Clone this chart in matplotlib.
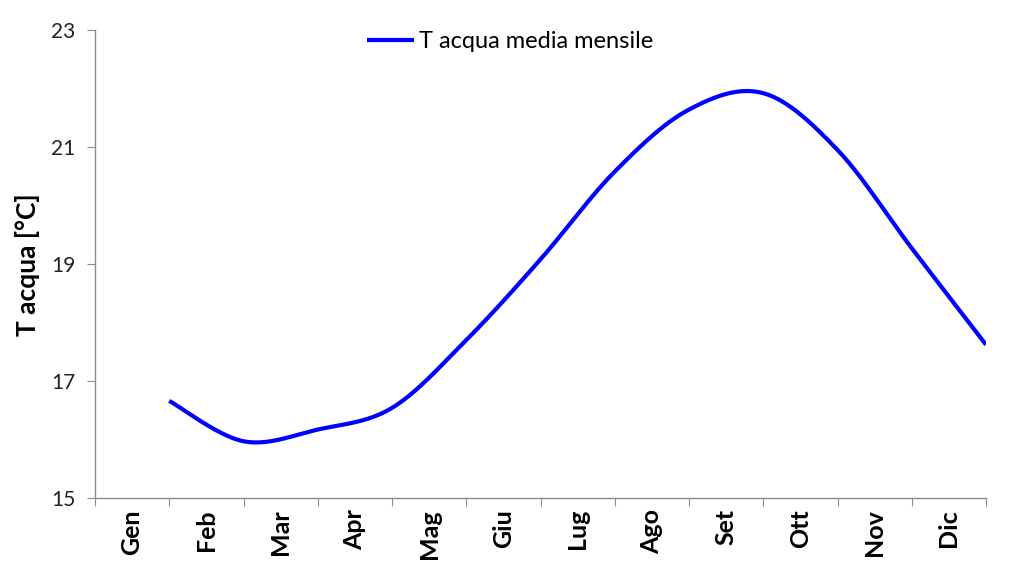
import numpy as np
import matplotlib
matplotlib.use("Agg")
import matplotlib.pyplot as plt

months = ["Gen", "Feb", "Mar", "Apr", "Mag", "Giu", "Lug", "Ago", "Set", "Ott", "Nov", "Dic"]
x_points = [1, 2, 3, 4, 5, 6, 7, 8, 9, 10, 11, 12]
t_acqua = [16.66, 15.97, 16.17, 16.54, 17.70, 19.08, 20.58, 21.64, 21.92, 20.95, 19.27, 17.62]
y_ticks = [15, 17, 19, 21, 23]
series_name = "T acqua media mensile"
y_label = "T acqua [°C]"


def smooth(xs, ys, n=40):
    """Excel-like smoothed line (Catmull-Rom as cubic Bezier)."""
    P = np.column_stack([xs, ys]).astype(float)
    P_ext = np.vstack([P[0], P, P[-1]])
    out = []
    t = np.linspace(0, 1, n)[:, None]
    for i in range(1, len(P_ext) - 2):
        p0, p1, p2, p3 = P_ext[i - 1], P_ext[i], P_ext[i + 1], P_ext[i + 2]
        c1 = p1 + (p2 - p0) / 6.0
        c2 = p2 - (p3 - p1) / 6.0
        seg = ((1 - t) ** 3) * p1 + 3 * ((1 - t) ** 2) * t * c1 + 3 * (1 - t) * t ** 2 * c2 + t ** 3 * p2
        out.append(seg if i == 1 else seg[1:])
    seg = np.vstack(out)
    return seg[:, 0], seg[:, 1]


plt.rcParams['font.family'] = ['Lato', 'DejaVu Sans']

fig = plt.figure(figsize=(10.16, 5.62), dpi=100)
ax = fig.add_axes([95 / 1016, 1 - 498 / 562, (986 - 95) / 1016, (498 - 30) / 562])

sx, sy = smooth(x_points, t_acqua)
line, = ax.plot(sx, sy, color="#0000FF", lw=3.0, solid_capstyle="butt", label=series_name)

ax.set_xlim(0, 12)
ax.set_ylim(15, 23)
ax.set_yticks(y_ticks)
ax.set_yticklabels([str(v) for v in y_ticks], fontsize=15, color="#222222")

ax.set_xticks(np.arange(0, 13))
ax.set_xticklabels([])
ax.set_xticks(np.arange(len(months)) + 0.5, minor=True)
ax.set_xticklabels(months, minor=True, rotation=90, fontsize=18, fontweight="bold")
ax.tick_params(axis="x", which="minor", length=0, pad=8)
ax.tick_params(axis="x", which="major", length=6, color="#8c8c8c", direction="out")
ax.tick_params(axis="y", length=6, color="#8c8c8c", direction="out", pad=8)

for s in ["top", "right"]:
    ax.spines[s].set_visible(False)
for s in ["left", "bottom"]:
    ax.spines[s].set_color("#8c8c8c")
    ax.spines[s].set_linewidth(1.0)

fig.text(27 / 1016, 1 - 265 / 562, y_label, rotation=90, ha="center", va="center",
         fontsize=19, fontweight="bold")

fig.legend(handles=[line], loc="center", bbox_to_anchor=(510 / 1016, 1 - 42 / 562),
           frameon=False, fontsize=17, handlelength=2.0, handletextpad=0.2)

fig.savefig("out.png", dpi=100, facecolor="white")
